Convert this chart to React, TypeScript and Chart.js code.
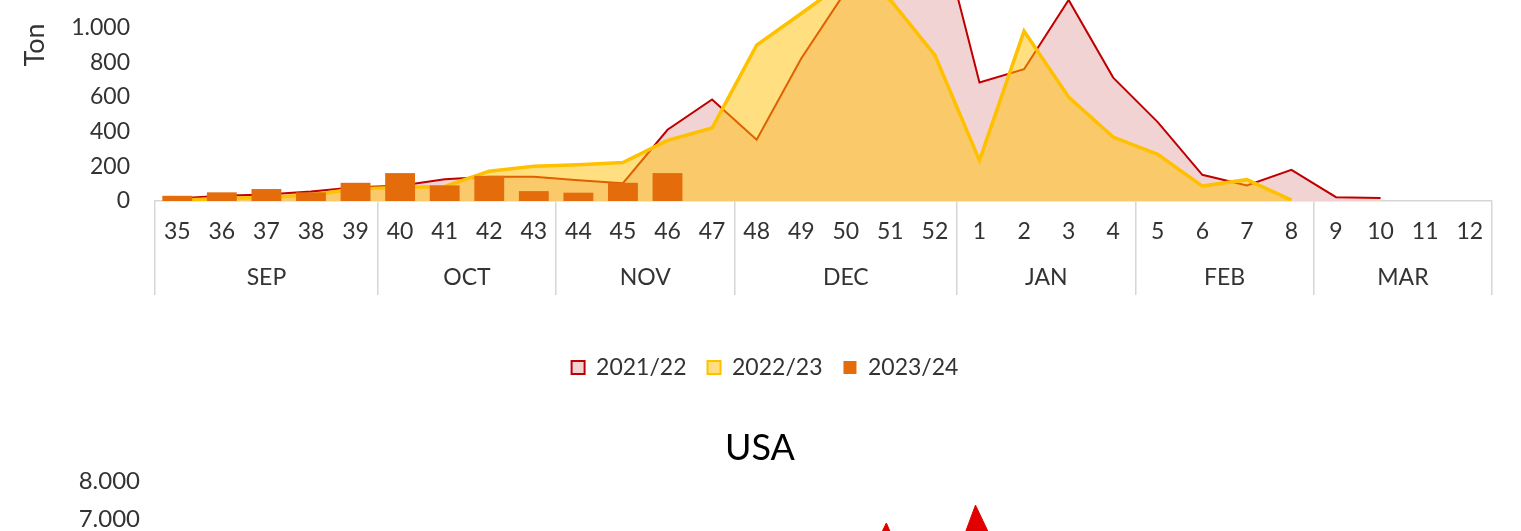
import React, { useEffect, useRef } from 'react';
import { Chart, registerables } from 'chart.js';

Chart.register(...registerables);

const FONT = 'Lato, "Noto Sans", sans-serif';
const TEXT = '#333333';

const weekLabels = ['35', '36', '37', '38', '39', '40', '41', '42', '43', '44', '45', '46', '47', '48', '49', '50', '51', '52', '1', '2', '3', '4', '5', '6', '7', '8', '9', '10', '11', '12'];
const monthLabels = ['SEP', 'OCT', 'NOV', 'DEC', 'JAN', 'FEB', 'MAR'];
const weeksPerMonth = [5, 4, 4, 5, 4, 4, 4];
const seriesNames = ['2021/22', '2022/23', '2023/24'];

const season2021 = [15, 30, 38, 55, 80, 88, 125, 140, 140, 120, 103, 411, 586, 354, 822, 1210, 1450, 1690, 684, 760, 1160, 712, 455, 151, 90, 180, 22, 18, null, null];
const season2022 = [5, 15, 20, 35, 70, 78, 84, 172, 201, 209, 222, 350, 421, 899, 1082, 1268, 1160, 841, 234, 980, 600, 369, 269, 86, 123, 5, null, null, null, null];
const season2023 = [30, 50, 69, 50, 105, 161, 90, 145, 57, 48, 105, 161, null, null, null, null, null, null, null, null, null, null, null, null, null, null, null, null, null, null];

const usaSeason2021 = [null, null, null, null, null, null, null, null, null, null, null, null, null, null, null, 4500, 6900, 4200, 7370, 4900, null, null, null, null, null, null, null, null, null, null];

const topYTicks = { min: 0, max: 1800, step: 200 };
const usaYTicks = { min: 0, max: 8000, step: 1000 };

const fmt = (v: number | string) => String(v).replace(/\B(?=(\d{3})+(?!\d))/g, '.');

const boundaries: number[] = [0];
const mids: number[] = [];
{
  let acc = 0;
  for (const c of weeksPerMonth) {
    mids.push(acc + c / 2);
    acc += c;
    boundaries.push(acc);
  }
}

export default function App() {
  const topRef = useRef<HTMLCanvasElement>(null);
  const usaRef = useRef<HTMLCanvasElement>(null);

  useEffect(() => {
    const font = (size: number) => ({ family: FONT, size, weight: 'normal' as const });

    const c1 = new Chart(topRef.current as HTMLCanvasElement, {
      type: 'bar',
      data: {
        labels: weekLabels,
        datasets: [
          {
            type: 'line',
            label: seriesNames[0],
            data: season2021,
            borderColor: '#C00000',
            backgroundColor: '#F2D3D4',
            borderWidth: 2,
            fill: 'origin',
            pointRadius: 0,
            tension: 0,
            order: 2,
          } as any,
          {
            type: 'line',
            label: seriesNames[1],
            data: season2022,
            borderColor: '#FFC000',
            backgroundColor: 'rgba(255,192,0,0.5)',
            borderWidth: 3.5,
            fill: 'origin',
            pointRadius: 0,
            tension: 0,
            order: 1,
          } as any,
          {
            type: 'bar',
            label: seriesNames[2],
            data: season2023,
            backgroundColor: '#E46C0A',
            borderWidth: 0,
            barPercentage: 0.67,
            categoryPercentage: 1,
            order: 0,
          } as any,
        ],
      },
      options: {
        responsive: false,
        animation: false,
        devicePixelRatio: 1,
        layout: { padding: { left: 38, right: 29, top: 29, bottom: 0 } },
        plugins: {
          tooltip: { enabled: false },
          legend: {
            position: 'bottom',
            labels: {
              font: font(23),
              color: TEXT,
              boxWidth: 13,
              boxHeight: 13,
              padding: 21,
              sort: (a: any, b: any) => a.datasetIndex - b.datasetIndex,
              generateLabels: (chart: any) => {
                const items = (Chart.defaults.plugins.legend.labels as any).generateLabels(chart);
                return items.map((it: any) => ({ ...it, lineWidth: it.datasetIndex === 2 ? 0 : 2 }));
              },
            },
          },
        },
        scales: {
          x: {
            type: 'category',
            offset: true,
            weight: 0,
            grid: {
              display: true,
              offset: true,
              drawOnChartArea: false,
              drawTicks: true,
              tickLength: 94,
              lineWidth: 1.5,
              color: (ctx: any) => (ctx.type !== 'tick' || boundaries.includes(ctx.index) ? '#D6D6D6' : 'rgba(0,0,0,0)'),
            },
            border: { display: true, color: '#D6D6D6', width: 1.5 },
            ticks: { font: font(23), color: TEXT, autoSkip: false, maxRotation: 0, padding: -77 },
            afterFit: (s: any) => { s.height = 55; },
          },
          x2: {
            type: 'linear',
            position: 'bottom',
            weight: 1,
            offset: false,
            min: 0,
            max: weekLabels.length,
            grid: { display: false, offset: false, drawTicks: false, tickLength: 0 },
            border: { display: false },
            afterBuildTicks: (s: any) => {
              s.ticks = [...boundaries, ...mids].sort((a, b) => a - b).map((v) => ({ value: v }));
            },
            ticks: {
              font: font(23),
              color: TEXT,
              autoSkip: false,
              maxRotation: 0,
              padding: 8,
              callback: (value: any) => {
                const i = mids.indexOf(Number(value));
                return i >= 0 ? monthLabels[i] : '';
              },
            },
            afterFit: (s: any) => { s.height = 79; },
          },
          y: {
            min: topYTicks.min,
            max: topYTicks.max,
            grid: { display: false, drawTicks: false },
            border: { display: false },
            ticks: { stepSize: topYTicks.step, font: font(23), color: TEXT, padding: 25, callback: (v: any) => fmt(v) },
            title: { display: true, text: 'Ton', font: font(27), color: TEXT, padding: { top: -19, bottom: 0 } },
            afterFit: (s: any) => { s.width = 117; s.paddingTop = 0; s.paddingBottom = 0; },
          },
        },
      } as any,
    });

    const c2 = new Chart(usaRef.current as HTMLCanvasElement, {
      type: 'line',
      data: {
        labels: weekLabels,
        datasets: [
          {
            label: seriesNames[0],
            data: usaSeason2021,
            borderColor: '#E00000',
            backgroundColor: '#E00000',
            borderWidth: 1,
            fill: 'origin',
            pointRadius: 0,
            tension: 0,
          } as any,
        ],
      },
      options: {
        responsive: false,
        animation: false,
        devicePixelRatio: 1,
        layout: { padding: { left: 32, right: 33, top: 0, bottom: 0 } },
        plugins: {
          legend: { display: false },
          tooltip: { enabled: false },
          title: {
            display: true,
            text: 'USA',
            font: { family: FONT, size: 36, weight: 'normal' },
            color: '#000000',
            padding: { top: 17, bottom: 11 },
          },
        },
        scales: {
          x: {
            type: 'category',
            offset: true,
            grid: { display: false },
            border: { display: false },
            ticks: { font: font(23), color: TEXT, autoSkip: false, maxRotation: 0 },
            afterFit: (s: any) => { s.height = 50; },
          },
          y: {
            min: usaYTicks.min,
            max: usaYTicks.max,
            grid: { display: false, drawTicks: false },
            border: { display: false },
            ticks: { stepSize: usaYTicks.step, font: font(24), color: TEXT, padding: 11, callback: (v: any) => fmt(v) },
            title: { display: true, text: 'Ton', font: font(27), color: TEXT, padding: { top: -19, bottom: 0 } },
            afterFit: (s: any) => { s.width = 119; },
          },
        },
      } as any,
    });

    return () => {
      c1.destroy();
      c2.destroy();
    };
  }, []);

  return (
    <div style={{ position: 'fixed', left: 0, top: 0, width: 1521, height: 531, overflow: 'hidden', background: '#ffffff' }}>
      <canvas ref={topRef} width={1521} height={529} style={{ position: 'absolute', left: 0, top: -140, width: 1521, height: 529 }} />
      <canvas ref={usaRef} width={1521} height={425} style={{ position: 'absolute', left: 0, top: 410, width: 1521, height: 425 }} />
    </div>
  );
}
